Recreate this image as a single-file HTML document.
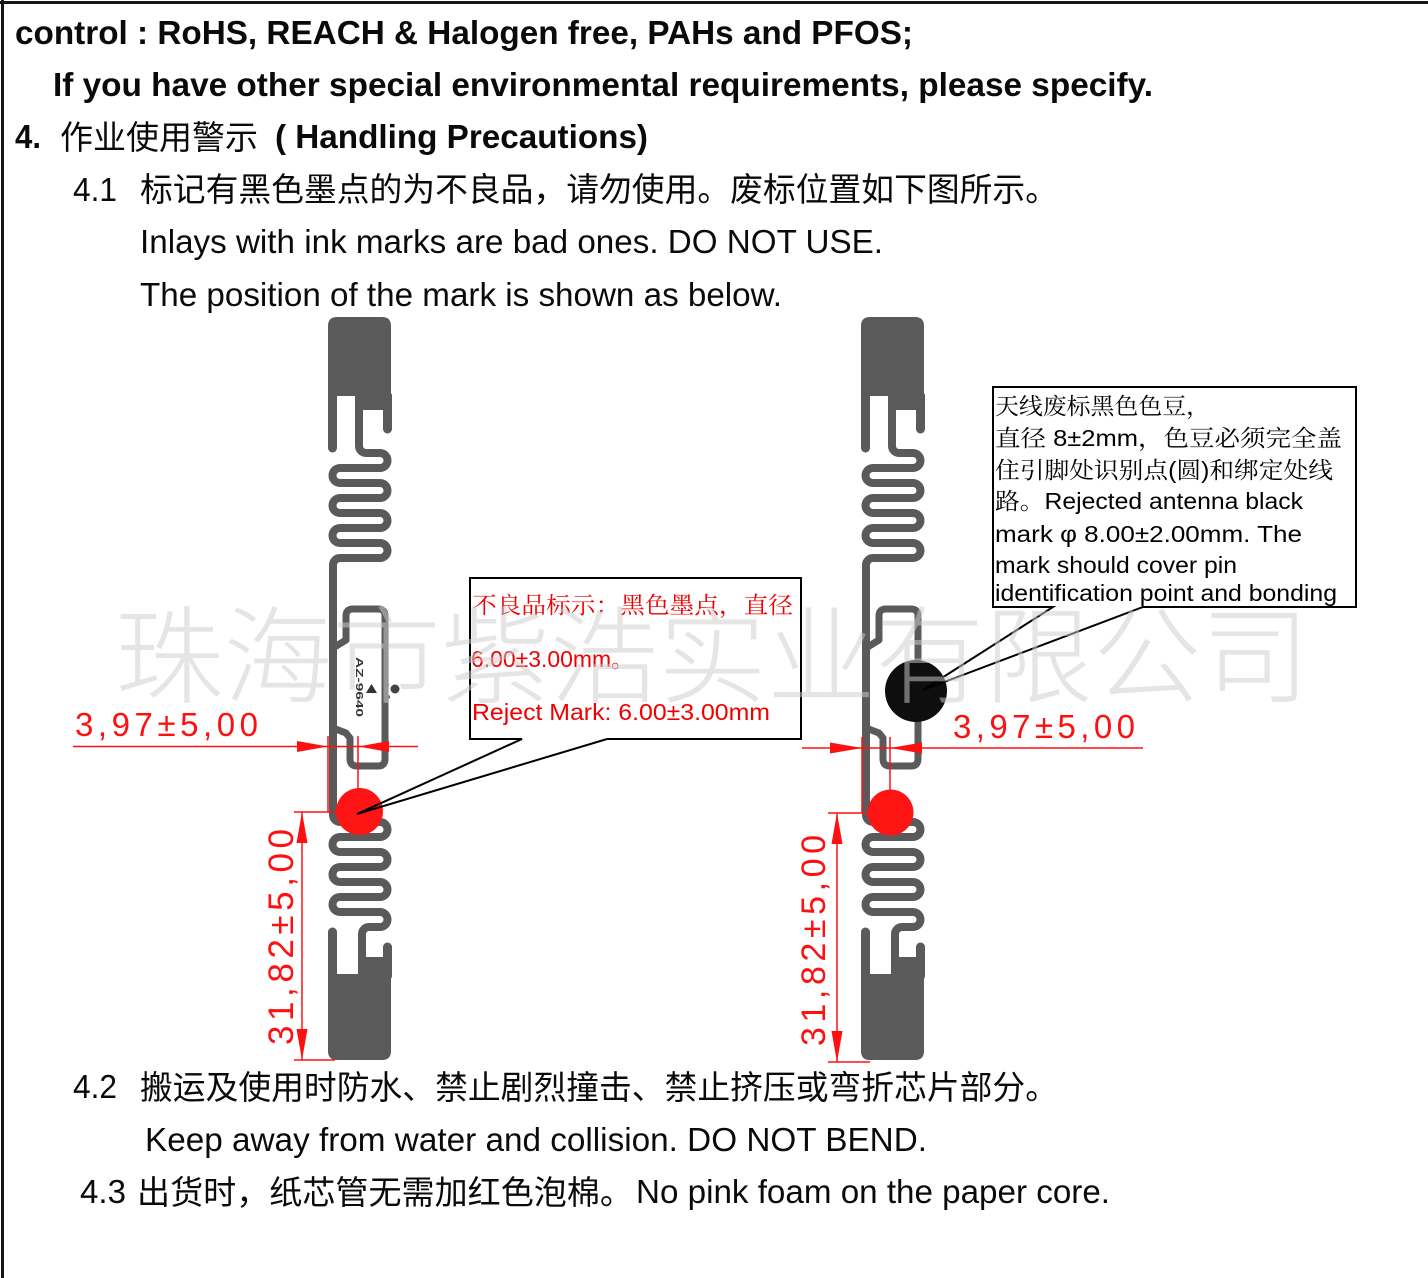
<!DOCTYPE html>
<html>
<head>
<meta charset="utf-8">
<style>
html,body{margin:0;padding:0;background:#fff;width:1428px;height:1278px;overflow:hidden}
svg{display:block}
</style>
</head>
<body>
<svg width="1428" height="1278" viewBox="0 0 1428 1278" xmlns="http://www.w3.org/2000/svg">
<rect x="0" y="0" width="1428" height="1278" fill="#fff"/>
<!-- page border -->
<rect x="0" y="1" width="1428" height="3" fill="#151515"/>
<rect x="1" y="0" width="3" height="1278" fill="#151515"/>

<!-- ===== body text ===== -->
<g fill="#0a0a0a" font-family="'Liberation Sans', 'Noto Sans CJK SC', sans-serif">
  <text x="15" y="44" font-size="33" font-weight="bold" textLength="898" lengthAdjust="spacingAndGlyphs">control : RoHS, REACH &amp; Halogen free, PAHs and PFOS;</text>
  <text x="53" y="96" font-size="33" font-weight="bold" textLength="1100" lengthAdjust="spacingAndGlyphs">If you have other special environmental requirements, please specify.</text>
  <text x="15" y="148" font-size="33" font-weight="bold" textLength="26" lengthAdjust="spacingAndGlyphs">4.</text>
  <text x="60" y="149" font-size="33" textLength="198" lengthAdjust="spacingAndGlyphs" font-family="'Noto Sans CJK SC', sans-serif">作业使用警示</text>
  <text x="275" y="148" font-size="33" font-weight="bold" textLength="373" lengthAdjust="spacingAndGlyphs">( Handling Precautions)</text>

  <text x="73" y="201" font-size="33" textLength="44" lengthAdjust="spacingAndGlyphs">4.1</text>
  <text x="140" y="201" font-size="33" textLength="918" lengthAdjust="spacingAndGlyphs" font-family="'Noto Sans CJK SC', sans-serif">标记有黑色墨点的为不良品，请勿使用。废标位置如下图所示。</text>
  <text x="140" y="253" font-size="33" textLength="743" lengthAdjust="spacingAndGlyphs">Inlays with ink marks are bad ones. DO NOT USE.</text>
  <text x="140" y="306" font-size="33" textLength="642" lengthAdjust="spacingAndGlyphs">The position of the mark is shown as below.</text>

  <text x="73" y="1098" font-size="33" textLength="44" lengthAdjust="spacingAndGlyphs">4.2</text>
  <text x="140" y="1099" font-size="33" textLength="918" lengthAdjust="spacingAndGlyphs" font-family="'Noto Sans CJK SC', sans-serif">搬运及使用时防水、禁止剧烈撞击、禁止挤压或弯折芯片部分。</text>
  <text x="145" y="1151" font-size="33" textLength="782" lengthAdjust="spacingAndGlyphs">Keep away from water and collision. DO NOT BEND.</text>
  <text x="80" y="1203" font-size="33" textLength="46" lengthAdjust="spacingAndGlyphs">4.3</text>
  <text x="137" y="1204" font-size="33" textLength="496" lengthAdjust="spacingAndGlyphs" font-family="'Noto Sans CJK SC', sans-serif">出货时，纸芯管无需加红色泡棉。</text>
  <text x="636" y="1203" font-size="33" textLength="474" lengthAdjust="spacingAndGlyphs">No pink foam on the paper core.</text>
</g>

<!-- ===== antenna definition ===== -->
<defs>
  <g id="ant">
    <g fill="#5a5a5a">
      <path d="M328,326 Q328,317 337,317 H382 Q391,317 391,326 V396 H328 Z"/>
      <rect x="355" y="394" width="37" height="16"/>
      <rect x="358" y="957" width="34" height="19"/>
      <path d="M328,974 H391 V1051 Q391,1060 382,1060 H337 Q328,1060 328,1051 Z"/>
    </g>
    <g fill="none" stroke="#5a5a5a" stroke-linecap="round" stroke-linejoin="round">
      <line x1="332.5" y1="396" x2="332.5" y2="448" stroke-width="9"/>
      <line x1="387.5" y1="396" x2="387.5" y2="429" stroke-width="9"/>
      <line x1="332.5" y1="932" x2="332.5" y2="976" stroke-width="9"/>
      <line x1="387.5" y1="947" x2="387.5" y2="976" stroke-width="9"/>
      <path stroke-width="8" d="M359,396 V446 A7,7 0 0 0 366,453 H380 A7.5,7.5 0 0 1 380,468 H340 A7.5,7.5 0 0 0 340,483 H380 A7.5,7.5 0 0 1 380,498 H340 A7.5,7.5 0 0 0 340,513 H380 A7.5,7.5 0 0 1 380,528 H340 A7.5,7.5 0 0 0 340,543 H380 A7.5,7.5 0 0 1 380,558 H340 A7,7 0 0 0 333,565 V815 A7,7 0 0 0 340,822 H380 A7.5,7.5 0 0 1 380,837 H340 A7.5,7.5 0 0 0 340,852 H380 A7.5,7.5 0 0 1 380,867 H340 A7.5,7.5 0 0 0 340,882 H380 A7.5,7.5 0 0 1 380,897 H340 A7.5,7.5 0 0 0 340,912 H380 A7.5,7.5 0 0 1 380,927 H369 A7,7 0 0 0 362,934 V976"/>
      <path stroke-width="7" d="M333,648 L346,640 V616 Q346,609 353,609 H378 Q385,609 385,616 V759 Q385,766 378,766 H357 Q350,766 350,759 V738 L346,733 L333,728"/>
    </g>
  </g>
</defs>

<use href="#ant"/>
<use href="#ant" transform="translate(533,0)"/>

<!-- chip marks (left antenna) -->
<text transform="translate(356,657) rotate(90)" font-family="'Liberation Sans', sans-serif" font-size="10" font-weight="bold" fill="#333" textLength="60" lengthAdjust="spacingAndGlyphs">AZ-9640</text>
<polygon points="366,693 377,693 371.5,684" fill="#333"/>
<circle cx="395" cy="689" r="4.5" fill="#444"/>
<circle cx="387" cy="685" r="2" fill="#555"/>
<circle cx="388" cy="697" r="2" fill="#555"/>

<!-- ===== red dimensions ===== -->
<g stroke="#ff1010" stroke-width="1.5" fill="none">
  <line x1="73" y1="746.5" x2="418" y2="746.5"/>
  <line x1="328" y1="736" x2="328" y2="812"/>
  <line x1="358" y1="736" x2="358" y2="796"/>
  <line x1="302" y1="812" x2="302" y2="1060"/>
  <line x1="294" y1="812" x2="345" y2="812"/>
  <line x1="294" y1="1060" x2="335" y2="1060"/>
  <line x1="802" y1="748" x2="1143" y2="748"/>
  <line x1="862" y1="737" x2="862" y2="813"/>
  <line x1="890" y1="737" x2="890" y2="796"/>
  <line x1="837" y1="813" x2="837" y2="1062"/>
  <line x1="828" y1="813" x2="880" y2="813"/>
  <line x1="828" y1="1062" x2="870" y2="1062"/>
</g>
<g fill="#ff1010">
  <polygon points="297,741 328,746.5 297,752"/>
  <polygon points="389,741 358,746.5 389,752"/>
  <polygon points="296.5,843 302,812 307.5,843"/>
  <polygon points="296.5,1029 302,1060 307.5,1029"/>
  <polygon points="830,742.5 862,748 830,753.5"/>
  <polygon points="922,742.5 890,748 922,753.5"/>
  <polygon points="831.5,844 837,813 842.5,844"/>
  <polygon points="831.5,1031 837,1062 842.5,1031"/>
</g>
<g fill="#ff1010" font-family="'Liberation Sans', sans-serif" font-size="33">
  <text x="75" y="736" textLength="183" lengthAdjust="spacing">3,97±5,00</text>
  <text x="953" y="738" textLength="182" lengthAdjust="spacing">3,97±5,00</text>
  <text transform="translate(293,1045) rotate(-90)" font-size="35" textLength="216" lengthAdjust="spacing">31,82±5,00</text>
  <text transform="translate(825,1046) rotate(-90)" font-size="34" textLength="211" lengthAdjust="spacing">31,82±5,00</text>
</g>

<!-- dots -->
<circle cx="359.5" cy="811.5" r="23.5" fill="#ff1414"/>
<circle cx="890.5" cy="812.5" r="23" fill="#ff1414"/>
<circle cx="916" cy="691" r="31" fill="#0e0e0e"/>

<!-- ===== callouts ===== -->
<rect x="470" y="578" width="331" height="161" fill="#fff"/>
<path d="M522,739 H470 V578 H801 V739 H607 L357,814 Z" fill="none" stroke="#000" stroke-width="2" stroke-linejoin="miter"/>
<g fill="#f00000">
  <text x="472" y="613" font-size="23" textLength="321" lengthAdjust="spacingAndGlyphs" font-family="'Noto Serif CJK SC', serif">不良品标示：黑色墨点，直径</text>
  <text x="471" y="667" font-size="23" textLength="163" lengthAdjust="spacingAndGlyphs" font-family="'Liberation Sans', 'Noto Serif CJK SC', sans-serif">6.00±3.00mm。</text>
  <text x="472" y="720" font-size="23" textLength="298" lengthAdjust="spacingAndGlyphs" font-family="'Liberation Sans', sans-serif">Reject Mark: 6.00±3.00mm</text>
</g>

<rect x="993" y="387" width="363" height="220" fill="#fff"/>
<path d="M1053,607 H993 V387 H1356 V607 H1143 L923,690 Z" fill="none" stroke="#000" stroke-width="2"/>
<g fill="#000" font-family="'Liberation Sans', 'Noto Serif CJK SC', sans-serif" font-size="23">
  <text x="995" y="414" textLength="215" lengthAdjust="spacingAndGlyphs" font-family="'Noto Serif CJK SC', serif">天线废标黑色色豆，</text>
  <text x="995" y="446" textLength="347" lengthAdjust="spacingAndGlyphs">直径 8±2mm，色豆必须完全盖</text>
  <text x="995" y="478" textLength="338" lengthAdjust="spacingAndGlyphs">住引脚处识别点(圆)和绑定处线</text>
  <text x="995" y="509" textLength="308" lengthAdjust="spacingAndGlyphs">路。Rejected antenna black</text>
  <text x="995" y="542" textLength="307" lengthAdjust="spacingAndGlyphs">mark φ 8.00±2.00mm. The</text>
  <text x="995" y="573" textLength="242" lengthAdjust="spacingAndGlyphs">mark should cover pin</text>
  <text x="995" y="601" textLength="342" lengthAdjust="spacingAndGlyphs">identification point and bonding</text>
</g>

<!-- ===== watermark ===== -->
<text x="115" y="695" font-family="'Noto Sans CJK SC', sans-serif" font-weight="300" font-size="106" fill="rgb(205,205,205)" fill-opacity="0.52" textLength="1195" lengthAdjust="spacingAndGlyphs">珠海市紫浩实业有限公司</text>
</svg>
</body>
</html>
